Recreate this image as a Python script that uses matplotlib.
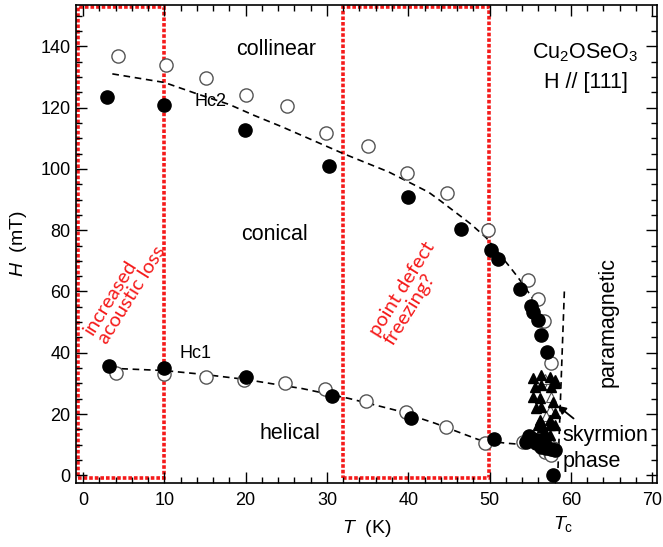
import matplotlib
matplotlib.use('Agg')
import matplotlib.pyplot as plt
from matplotlib.patches import Rectangle
from matplotlib.ticker import MultipleLocator

plt.rcParams['font.family'] = ['Liberation Sans', 'DejaVu Sans']
plt.rcParams['mathtext.fontset'] = 'custom'
plt.rcParams['mathtext.rm'] = 'Liberation Sans'
plt.rcParams['mathtext.it'] = 'Liberation Sans:italic'

# Hc2 branch (upper critical field)
hc2_filled_T = [2.9, 9.95, 19.9, 30.2, 40.0, 46.5, 50.2, 51.0, 53.7, 55.1, 55.4, 55.9, 56.3, 57.1, 57.8]
hc2_filled_H = [123.6, 120.8, 112.7, 101.0, 90.9, 80.4, 73.6, 70.5, 60.8, 55.3, 53.3, 50.7, 45.8, 40.4, 0.0]
hc2_open_T = [4.3, 10.2, 15.1, 20.1, 25.05, 29.9, 35.0, 39.8, 44.8, 49.8, 54.7, 55.9, 56.7, 57.6]
hc2_open_H = [136.9, 133.8, 129.5, 124.1, 120.6, 111.8, 107.6, 98.6, 92.1, 80.1, 63.6, 57.6, 50.5, 36.6]

# Hc1 branch (lower critical field)
hc1_filled_T = [3.2, 10.0, 20.0, 30.6, 40.3, 50.5]
hc1_filled_H = [35.7, 35.0, 32.0, 26.0, 18.7, 11.9]
hc1_open_T = [4.1, 10.0, 15.1, 19.8, 24.9, 29.8, 34.8, 39.7, 44.7, 49.5]
hc1_open_H = [33.5, 33.1, 32.2, 31.2, 30.1, 28.1, 24.4, 20.6, 15.7, 10.7]

# skyrmion pocket near Tc
sky_filled_T = [54.5, 55.1, 55.7, 56.3, 56.9, 57.5, 58.0, 55.3, 56.0, 54.9]
sky_filled_H = [10.9, 11.6, 10.6, 9.3, 9.0, 8.6, 8.3, 12.0, 11.5, 12.8]
sky_open_T = [54.1, 54.6, 56.8, 57.4, 57.8, 57.2, 57.6]
sky_open_H = [10.9, 11.2, 7.7, 7.3, 9.0, 10.0, 6.5]
tri_filled_T = [55.3, 56.3, 57.4, 58.0, 55.6, 56.3, 57.5, 58.1, 55.3, 56.2, 57.8,
                55.7, 56.3, 58.0, 56.2, 56.3, 57.4, 58.1, 56.8, 57.4, 55.9, 56.5, 57.4, 56.3, 57.0]
tri_filled_H = [31.8, 32.6, 32.0, 31.0, 28.9, 29.5, 28.9, 30.2, 25.6, 25.3, 24.0,
                22.0, 22.3, 20.4, 18.1, 17.1, 18.1, 16.5, 14.2, 13.2, 16.5, 15.8, 16.5, 12.6, 12.6]
tri_open_T = [57.5, 57.4, 57.0, 57.3, 56.8]
tri_open_H = [25.6, 21.4, 19.5, 29.8, 31.5]

# guide-to-the-eye dashed lines
hc2_guide_T = [3.6, 10, 14, 18, 21, 24.5, 32, 37.6, 42.5, 44, 47.7, 49.6, 52.5, 53.5, 55.5]
hc2_guide_H = [131, 128.2, 124.5, 121, 117.5, 113.7, 105, 99, 92.4, 89.5, 82, 77.5, 68, 64.6, 57]
hc1_guide_T = [4.7, 10, 15, 20, 23, 27, 32.7, 38.4, 43.3, 48.6, 52, 54.5]
hc1_guide_H = [34.8, 34.2, 32.9, 31.3, 30, 28.3, 25.1, 21.3, 17, 11.7, 10.5, 10]
tc_line_T = [59.2, 58.4]
tc_line_H = [60, 1]

# highlighted temperature windows
regions_T = [(-0.6, 10.0), (32.0, 49.9)]
region_H = (-1.0, 152.8)

fig = plt.figure(figsize=(6.63, 5.47), dpi=100)
ax = fig.add_axes([0.114, 0.1175, 0.877, 0.8735])

for t0, t1 in regions_T:
    ax.add_patch(Rectangle((t0, region_H[0]), t1 - t0, region_H[1] - region_H[0],
                           fill=False, edgecolor='#f51a1a', linewidth=2.6,
                           linestyle=(0, (1, 0.55)), zorder=1))

dash = dict(color='black', linewidth=1.2, dashes=(4, 2.8), zorder=2)
ax.plot(hc2_guide_T, hc2_guide_H, **dash)
ax.plot(hc1_guide_T, hc1_guide_H, **dash)
ax.plot(tc_line_T, tc_line_H, **dash)

openc = dict(marker='o', linestyle='none', markersize=9.5, markerfacecolor='white',
             markeredgecolor='#555555', markeredgewidth=1.0, zorder=3)
fillc = dict(marker='o', linestyle='none', markersize=9.5, color='black', zorder=4)
ax.plot(hc2_open_T, hc2_open_H, **openc)
ax.plot(hc1_open_T, hc1_open_H, **openc)
ax.plot(sky_open_T, sky_open_H, **openc)
ax.plot(hc2_filled_T, hc2_filled_H, **fillc)
ax.plot(hc1_filled_T, hc1_filled_H, **fillc)
ax.plot(sky_filled_T, sky_filled_H, **fillc)
ax.plot(tri_open_T, tri_open_H, marker='^', linestyle='none', markersize=7.5,
        markerfacecolor='white', markeredgecolor='#555555', markeredgewidth=0.8, zorder=3)
ax.plot(tri_filled_T, tri_filled_H, marker='^', linestyle='none', markersize=7.5,
        color='black', zorder=4)

ax.set_xlim(-0.92, 70.6)
ax.set_ylim(-2.4, 153.5)
ax.xaxis.set_major_locator(MultipleLocator(10))
ax.xaxis.set_minor_locator(MultipleLocator(2))
ax.yaxis.set_major_locator(MultipleLocator(20))
ax.yaxis.set_minor_locator(MultipleLocator(5))
ax.tick_params(which='both', direction='in', top=True, right=True, width=1.0,
               labelsize=13)
ax.tick_params(which='major', length=8)
ax.tick_params(which='minor', length=4)
ax.tick_params(axis='x', pad=7)
for s in ax.spines.values():
    s.set_linewidth(1.2)

ax.set_xlabel('$T$  (K)', fontsize=14, labelpad=6)
ax.set_ylabel('$H$  (mT)', fontsize=14, labelpad=8)
ax.text(59.1, -16.0, '$T_\\mathrm{c}$', fontsize=14, ha='center', va='center',
        clip_on=False)

# phase labels
big = dict(fontsize=15.5, ha='center', va='center')
ax.text(23.7, 139, 'collinear', **big)
ax.text(23.5, 78.5, 'conical', **big)
ax.text(25.5, 13.7, 'helical', **big)
ax.text(15.7, 122, 'Hc2', fontsize=13, ha='center', va='center')
ax.text(13.8, 39.7, 'Hc1', fontsize=13, ha='center', va='center')
ax.text(61.8, 138, 'Cu$_2$OSeO$_3$', **big)
ax.text(61.8, 128.3, 'H // [111]', **big)
ax.text(64.6, 50, 'paramagnetic', rotation=90, **big)
ax.text(59.0, 13.1, 'skyrmion', fontsize=15.5, ha='left', va='center')
ax.text(59.0, 4.6, 'phase', fontsize=15.5, ha='left', va='center')
ax.annotate('', xy=(58.1, 23.3), xytext=(60.6, 18.0),
            arrowprops=dict(arrowstyle='-|>', color='black', lw=1.3, mutation_scale=12))

red = dict(color='#f51a1a', fontsize=14.5, rotation=58, ha='center', va='center',
           multialignment='left', family=['Lato', 'DejaVu Sans'], linespacing=1.0)
ax.text(5.1, 60.3, 'increased\nacoustic loss', **red)
ax.text(40.2, 59.5, 'point defect\nfreezing?', **red)

fig.savefig('out.png', dpi=100)
